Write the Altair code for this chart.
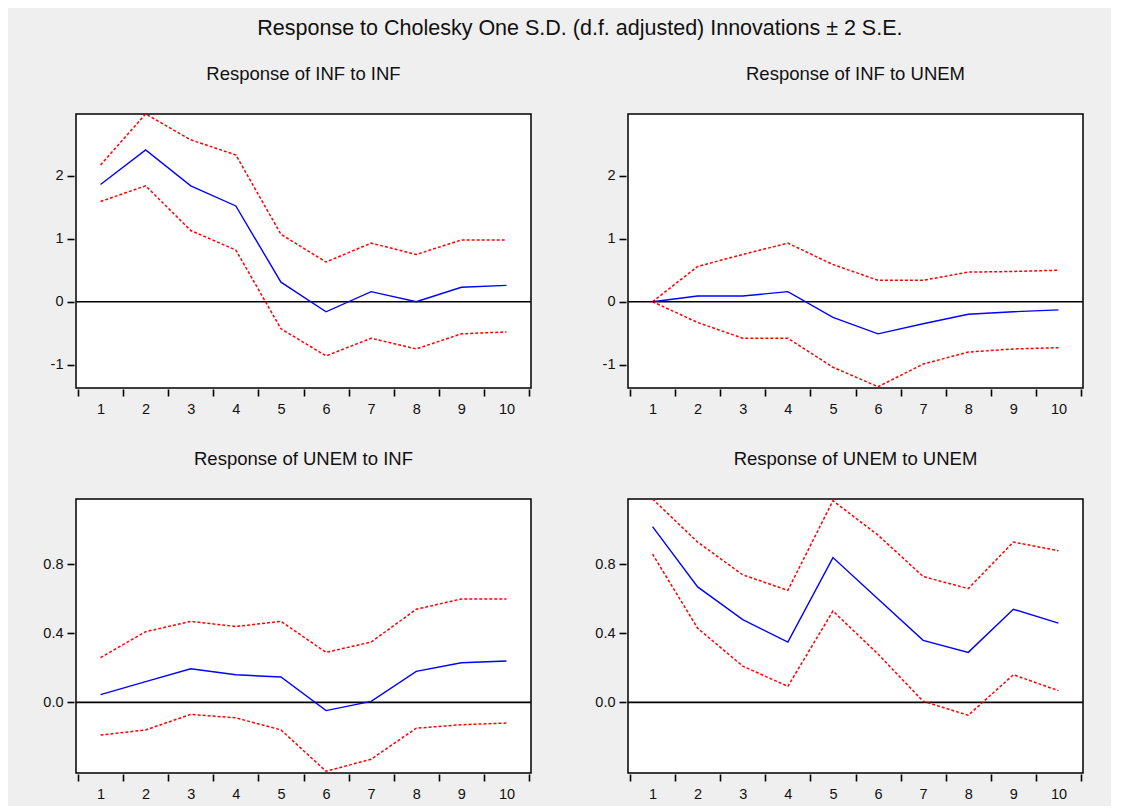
import altair as alt
import pandas as pd

steps = [1, 2, 3, 4, 5, 6, 7, 8, 9, 10]

# Response of INF to INF
inf_inf = [1.86, 2.41, 1.84, 1.52, 0.31, -0.16, 0.16, 0.00, 0.23, 0.26]
inf_inf_up = [2.17, 2.98, 2.57, 2.33, 1.07, 0.63, 0.93, 0.75, 0.98, 0.98]
inf_inf_lo = [1.59, 1.84, 1.13, 0.82, -0.43, -0.86, -0.58, -0.75, -0.51, -0.48]

# Response of INF to UNEM
inf_unem = [0.00, 0.09, 0.09, 0.16, -0.25, -0.51, -0.35, -0.20, -0.16, -0.13]
inf_unem_up = [0.00, 0.56, 0.75, 0.93, 0.59, 0.34, 0.34, 0.47, 0.48, 0.50]
inf_unem_lo = [0.00, -0.33, -0.58, -0.58, -1.04, -1.35, -0.99, -0.80, -0.75, -0.73]

# Response of UNEM to INF
unem_inf = [0.045, 0.12, 0.195, 0.16, 0.147, -0.048, 0.006, 0.18, 0.23, 0.24]
unem_inf_up = [0.26, 0.41, 0.47, 0.44, 0.47, 0.29, 0.35, 0.54, 0.60, 0.60]
unem_inf_lo = [-0.19, -0.16, -0.07, -0.09, -0.16, -0.40, -0.33, -0.15, -0.13, -0.12]

# Response of UNEM to UNEM
unem_unem = [1.02, 0.67, 0.48, 0.35, 0.84, 0.60, 0.36, 0.29, 0.54, 0.46]
unem_unem_up = [1.18, 0.93, 0.74, 0.65, 1.17, 0.97, 0.73, 0.66, 0.93, 0.88]
unem_unem_lo = [0.86, 0.43, 0.21, 0.093, 0.53, 0.28, 0.006, -0.075, 0.16, 0.068]

top_domain = [-1.37, 2.98]
top_ticks = [-1, 0, 1, 2]
bottom_domain = [-0.41, 1.18]
bottom_ticks = [0.0, 0.4, 0.8]

FONT = "Liberation Sans"
W = 455
H = 274
LABEL_SIZE = 14.5


def panel(title, resp, up, lo, domain, ticks, fmt):
    df = pd.DataFrame({"step": steps, "resp": resp, "up": up, "lo": lo})
    x = alt.X(
        "step:O",
        scale=alt.Scale(type="band", paddingInner=0, paddingOuter=0.044),
        axis=alt.Axis(
            title=None, labelAngle=0, tickBand="extent", tickSize=7,
            domain=False, labelPadding=6, offset=1, tickWidth=1.6,
            tickColor="black", labelFont=FONT, labelFontSize=LABEL_SIZE,
            labelColor="#111111",
        ),
    )
    yscale = alt.Scale(domain=domain, nice=False, zero=False)
    yaxis = alt.Axis(
        title=None, values=ticks, format=fmt, grid=False, domain=False,
        tickSize=7, tickWidth=1.6, tickColor="black", offset=2,
        labelPadding=4, labelFont=FONT, labelFontSize=LABEL_SIZE,
        labelColor="#111111", minExtent=34, maxExtent=34,
        labelExpr="replace(datum.label, '\u2212', '-')",
    )
    base = alt.Chart(df)
    upper = base.mark_line(color="#ff0000", strokeWidth=1.5, strokeDash=[3, 2], clip=True).encode(
        x=x, y=alt.Y("up:Q", scale=yscale, axis=yaxis)
    )
    lower = base.mark_line(color="#ff0000", strokeWidth=1.5, strokeDash=[3, 2], clip=True).encode(
        x=x, y=alt.Y("lo:Q", scale=yscale, axis=yaxis)
    )
    zero = alt.Chart(pd.DataFrame({"z": [0]})).mark_rule(color="black", strokeWidth=1.6).encode(
        y=alt.Y("z:Q", scale=yscale, axis=yaxis)
    )
    main = base.mark_line(color="#0000ff", strokeWidth=1.4, clip=True).encode(
        x=x, y=alt.Y("resp:Q", scale=yscale, axis=yaxis)
    )
    return alt.layer(zero, upper, lower, main).properties(
        width=W, height=H,
        title=alt.TitleParams(
            title, font=FONT, fontSize=18.5, fontWeight="normal",
            color="#111111", anchor="middle", offset=31,
        ),
    )


p1 = panel("Response of INF to INF", inf_inf, inf_inf_up, inf_inf_lo, top_domain, top_ticks, "d")
p2 = panel("Response of INF to UNEM", inf_unem, inf_unem_up, inf_unem_lo, top_domain, top_ticks, "d")
p3 = panel("Response of UNEM to INF", unem_inf, unem_inf_up, unem_inf_lo, bottom_domain, bottom_ticks, ".1f")
p4 = panel("Response of UNEM to UNEM", unem_unem, unem_unem_up, unem_unem_lo, bottom_domain, bottom_ticks, ".1f")

row1 = alt.hconcat(p1, p2, spacing=58)
row2 = alt.hconcat(p3, p4, spacing=58)

chart = alt.vconcat(row1, row2, spacing=31).properties(
    title=alt.TitleParams(
        "Response to Cholesky One S.D. (d.f. adjusted) Innovations \u00b1 2 S.E.",
        font=FONT, fontSize=21.5, fontWeight="normal", color="#111111",
        anchor="middle", offset=24, dx=18,
    ),
    padding={"left": 31, "top": 10, "right": 26, "bottom": 4},
    background="#efefef",
).configure_view(
    stroke="black", strokeWidth=1.5, fill="white"
)

chart.save("out.html", embed_options={"renderer": "svg", "actions": False})
